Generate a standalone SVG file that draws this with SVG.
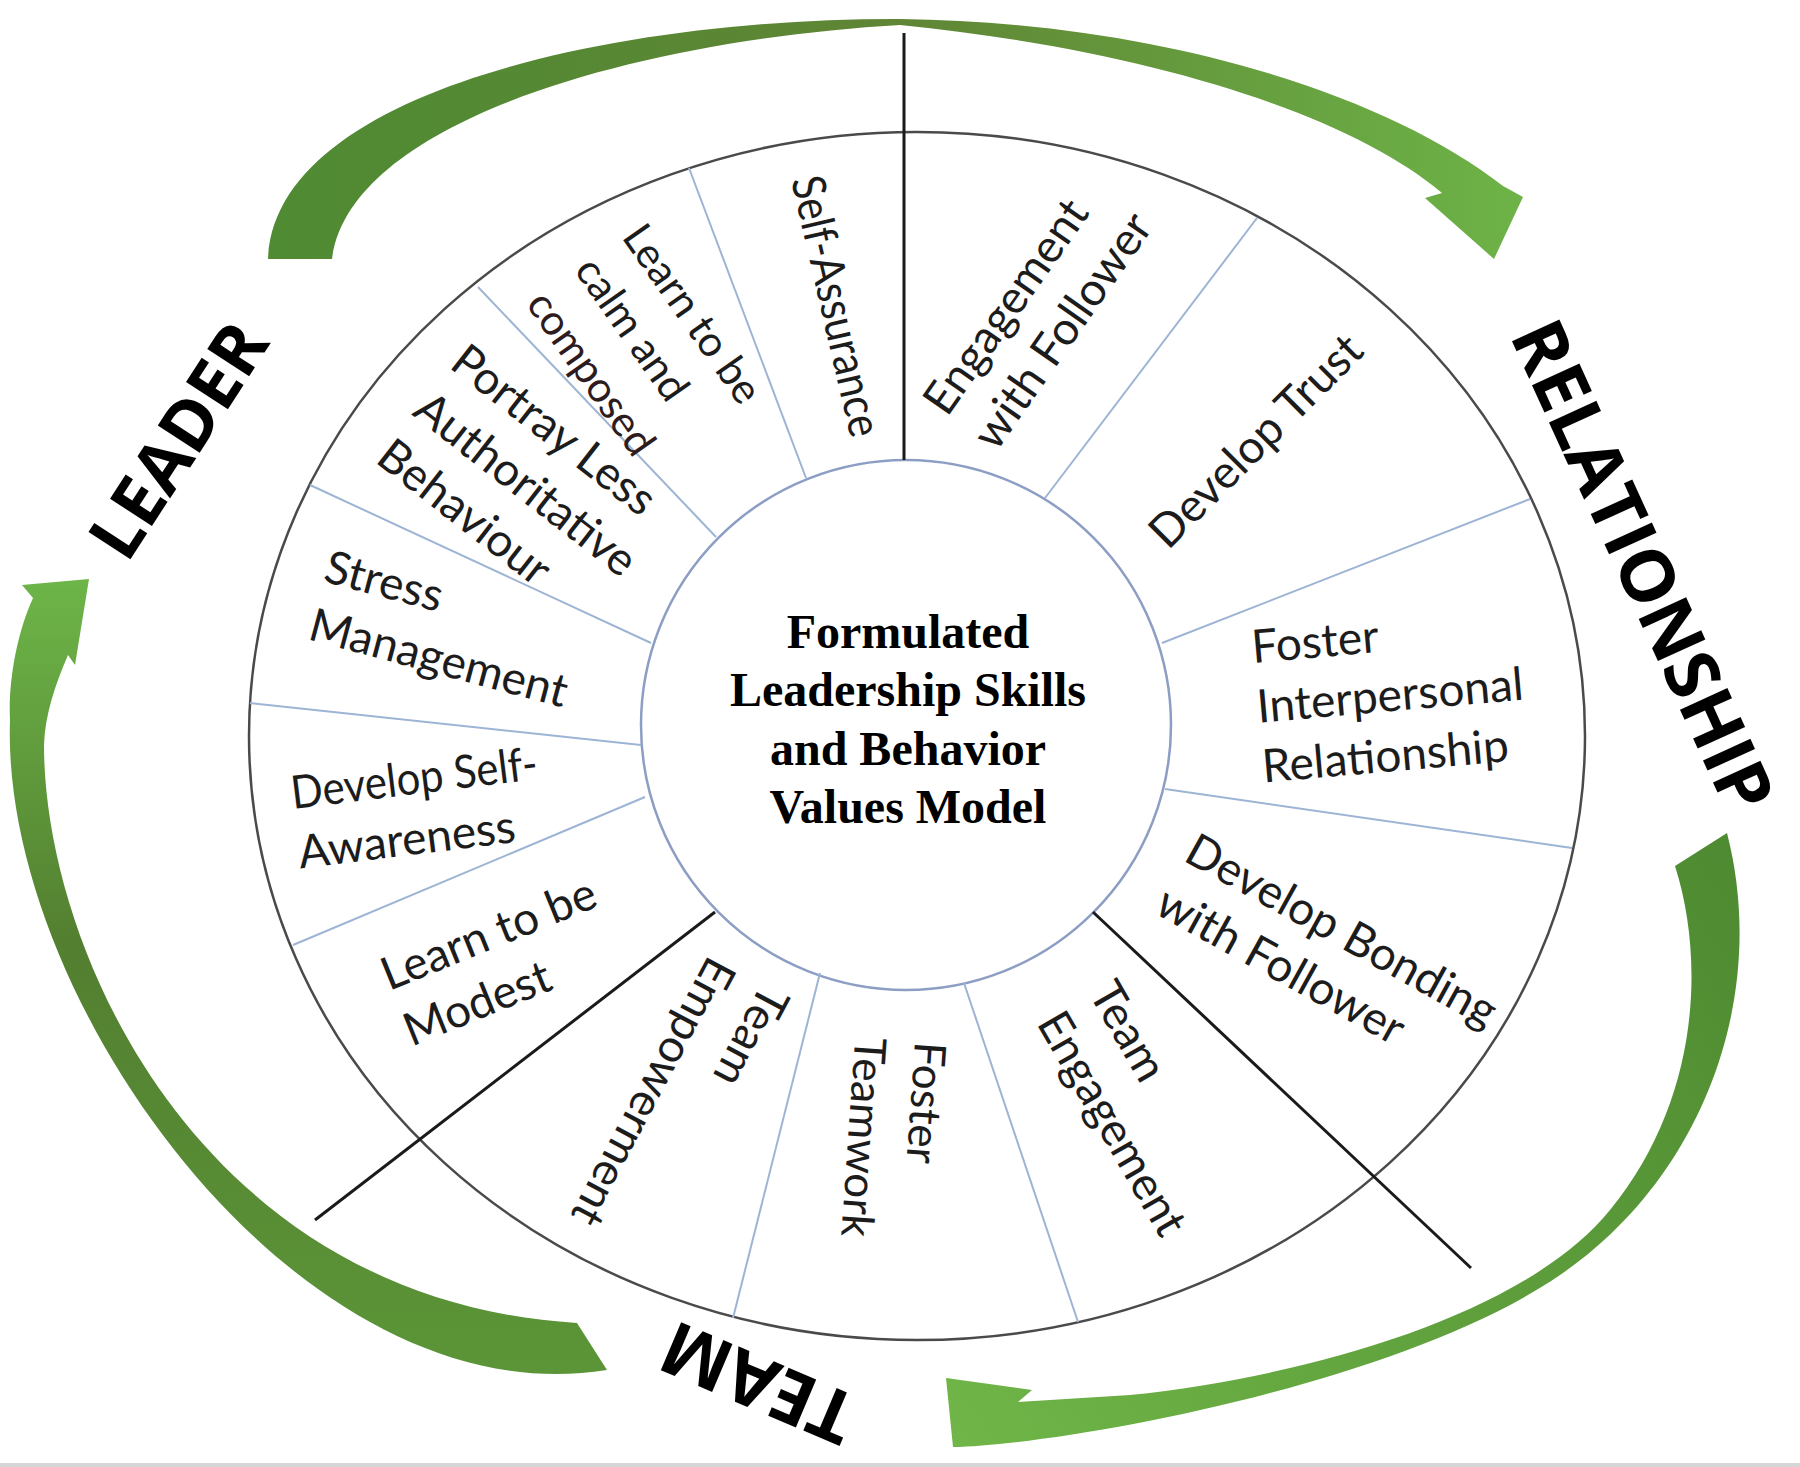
<svg xmlns="http://www.w3.org/2000/svg" width="1800" height="1467" viewBox="0 0 1800 1467">
<defs>
<style>
.seg{font-family:Lato,"Open Sans","Liberation Sans",sans-serif;font-size:46px;fill:#1c1c1c}
.big{font-family:"Open Sans","Liberation Sans",sans-serif;font-weight:700;font-size:70px;fill:#000;text-anchor:middle}
.ctr{font-family:"Liberation Serif","Times New Roman",serif;font-weight:700;font-size:48px;fill:#000;text-anchor:middle}
.sep{stroke:#9db4d4;stroke-width:2;fill:none}
.div{stroke:#1a1a1a;stroke-width:3;fill:none}
</style>
<linearGradient id="gTop" gradientUnits="userSpaceOnUse" x1="268" y1="200" x2="1525" y2="200">
<stop offset="0" stop-color="#4f8b33"/><stop offset="0.5" stop-color="#5f8535"/><stop offset="1" stop-color="#6db347"/>
</linearGradient>
<linearGradient id="gLeft" gradientUnits="userSpaceOnUse" x1="0" y1="580" x2="0" y2="1390">
<stop offset="0" stop-color="#6db548"/><stop offset="0.45" stop-color="#537f30"/><stop offset="1" stop-color="#5c9638"/>
</linearGradient>
<linearGradient id="gRight" gradientUnits="userSpaceOnUse" x1="1727" y1="833" x2="946" y2="1420">
<stop offset="0" stop-color="#4e8a31"/><stop offset="1" stop-color="#6fb547"/>
</linearGradient>
</defs>
<rect x="0" y="0" width="1800" height="1467" fill="#ffffff"/>
<rect x="0" y="1463" width="1800" height="4" fill="#d6d6d6"/>

<g id="wheel">
<ellipse cx="917" cy="736" rx="668" ry="604" fill="none" stroke="#4a4a4a" stroke-width="2.5"/>
<circle cx="906" cy="725" r="265" fill="none" stroke="#8d9ec4" stroke-width="2.5"/>
</g>

<g id="connectors">
<line class="div" x1="904" y1="33" x2="904" y2="460"/>
<line class="div" x1="715" y1="912" x2="315" y2="1220"/>
<line class="div" x1="1093" y1="912" x2="1471" y2="1268"/>
<line class="sep" x1="689" y1="168" x2="806" y2="478"/>
<line class="sep" x1="478" y1="287" x2="716" y2="537"/>
<line class="sep" x1="310" y1="485" x2="651" y2="643"/>
<line class="sep" x1="250" y1="703" x2="641" y2="745"/>
<line class="sep" x1="293" y1="945" x2="645" y2="797"/>
<line class="sep" x1="820" y1="973" x2="733" y2="1318"/>
<line class="sep" x1="964" y1="983" x2="1078" y2="1322"/>
<line class="sep" x1="1165" y1="789" x2="1572" y2="848"/>
<line class="sep" x1="1162" y1="643" x2="1530" y2="499"/>
<line class="sep" x1="1045" y1="498" x2="1257" y2="218"/>
<path id="arrow-leader-relationship" fill="url(#gTop)" d="M 268 259 C 275 90 620 18 900 19 C 1150 22 1380 90 1503 186 L 1523 197 L 1494 259 L 1425 198 L 1442 193 C 1350 115 1150 50 900 25 C 640 40 350 120 332 259 Z"/>
<path id="arrow-relationship-team" fill="url(#gRight)" d="M 1675 866 C 1705 960 1700 1100 1610 1210 C 1530 1310 1320 1375 1130 1395 L 1018 1402 L 1032 1390 L 946 1378 L 953 1447 C 1060 1445 1400 1385 1560 1275 C 1700 1180 1770 1000 1727 833 Z"/>
<path id="arrow-team-leader" fill="url(#gLeft)" d="M 607 1370 C 300 1420 0 1000 10 720 C 8 680 18 630 33 598 L 22 585 L 89 579 L 75 665 L 68 655 C 55 685 45 715 44 745 C 44 950 200 1300 577 1323 Z"/>
</g>

<g id="node-center">
<text class="ctr"><tspan x="908" y="648">Formulated</tspan><tspan x="908" y="706">Leadership Skills</tspan><tspan x="908" y="765">and Behavior</tspan><tspan x="908" y="823">Values Model</tspan></text>
</g>

<g id="node-leader"><text class="big" transform="translate(178 440) rotate(-57)" x="0" y="25">LEADER</text></g>
<g id="node-relationship"><text class="big" style="font-size:73px" transform="translate(1643 566) rotate(65.5)" x="0" y="26">RELATIONSHIP</text></g>
<g id="node-team"><text class="big" style="font-size:73px" transform="translate(758 1383) rotate(203)" x="0" y="26">TEAM</text></g>

<g id="node-self-assurance"><text class="seg" transform="translate(791 180) rotate(77)"><tspan x="0" y="0" textLength="266" lengthAdjust="spacingAndGlyphs">Self-Assurance</tspan></text></g>
<g id="node-calm"><text class="seg" style="font-size:42px" transform="translate(621 237) rotate(55)"><tspan x="0" y="0">Learn to be</tspan><tspan x="0" y="58">calm and</tspan><tspan x="0" y="117" fill="#2e1b1d">composed</tspan></text></g>
<g id="node-portray"><text class="seg" transform="translate(448 367) rotate(38)"><tspan x="0" y="0">Portray Less</tspan><tspan x="0" y="60">Authoritative</tspan><tspan x="0" y="120">Behaviour</tspan></text></g>
<g id="node-stress"><text class="seg" transform="translate(322 581) rotate(15)"><tspan x="0" y="0">Stress</tspan><tspan x="0" y="60">Management</tspan></text></g>
<g id="node-self-awareness"><text class="seg" transform="translate(293 809) rotate(-7)"><tspan x="0" y="0" textLength="248" lengthAdjust="spacingAndGlyphs">Develop Self-</tspan><tspan x="0" y="60">Awareness</tspan></text></g>
<g id="node-modest"><text class="seg" transform="translate(389 991) rotate(-22)"><tspan x="0" y="0">Learn to be</tspan><tspan x="0" y="60">Modest</tspan></text></g>
<g id="node-team-empowerment"><text class="seg" transform="translate(762 982) rotate(118)"><tspan x="0" y="0">Team</tspan><tspan x="0" y="60">Empowerment</tspan></text></g>
<g id="node-teamwork"><text class="seg" style="font-size:44px" transform="translate(915 1041) rotate(94)"><tspan x="0" y="0">Foster</tspan><tspan x="0" y="60">Teamwork</tspan></text></g>
<g id="node-team-engagement"><text class="seg" transform="translate(1088 993) rotate(60)"><tspan x="0" y="0">Team</tspan><tspan x="0" y="60">Engagement</tspan></text></g>
<g id="node-bonding"><text class="seg" transform="translate(1182 860) rotate(29)"><tspan x="0" y="0">Develop Bonding</tspan><tspan x="0" y="60">with Follower</tspan></text></g>
<g id="node-interpersonal"><text class="seg" transform="translate(1253 663) rotate(-5)"><tspan x="0" y="0">Foster</tspan><tspan x="0" y="60">Interpersonal</tspan><tspan x="0" y="120">Relationship</tspan></text></g>
<g id="node-trust"><text class="seg" transform="translate(1168 551) rotate(-45)"><tspan x="0" y="0">Develop Trust</tspan></text></g>
<g id="node-engagement-follower"><text class="seg" transform="translate(947 418) rotate(-55)"><tspan x="0" y="0">Engagement</tspan><tspan x="0" y="60">with Follower</tspan></text></g>
</svg>
